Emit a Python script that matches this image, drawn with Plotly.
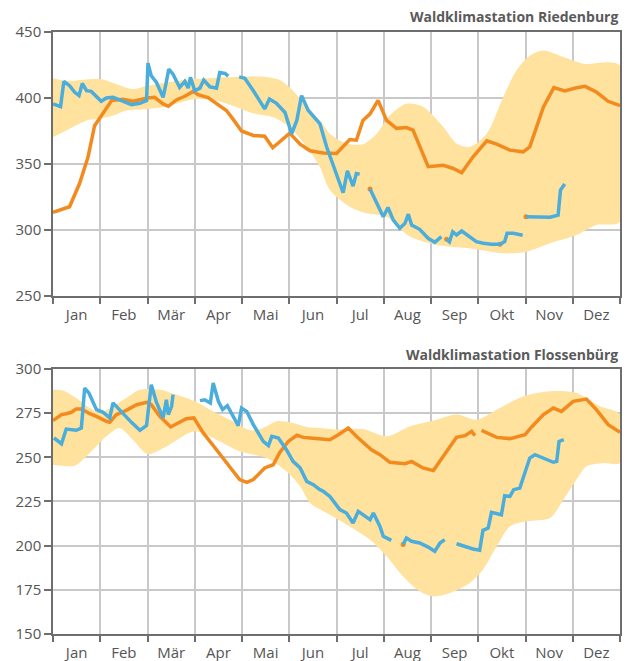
import plotly.graph_objects as go

months = ["Jan", "Feb", "Mär", "Apr", "Mai", "Jun", "Jul", "Aug", "Sep", "Okt", "Nov", "Dez"]

# ---------------- Riedenburg (top) ----------------
r_orange_x = [0, 0.35, 0.56, 0.74, 0.88, 1.02, 1.24, 1.48, 1.69, 2.0, 2.15, 2.33, 2.44, 2.61, 2.79, 2.97, 3.07, 3.28, 3.46, 3.67, 3.81, 3.99, 4.24, 4.48, 4.65, 5.01, 5.23, 5.44, 5.72, 6.0, 6.28, 6.42, 6.56, 6.71, 6.88, 7.06, 7.27, 7.48, 7.62, 7.94, 8.26, 8.47, 8.65, 8.89, 9.18, 9.39, 9.67, 9.95, 10.09, 10.38, 10.6, 10.83, 11.08, 11.26, 11.5, 11.75, 12.0]
r_orange_y = [313.3, 317.6, 335, 355, 379, 386.7, 398, 399, 397.5, 400, 400.5, 395.5, 393.7, 398.5, 401.3, 405, 402.5, 400.3, 395.5, 390.5, 384, 375, 371.6, 371.1, 362.3, 373.4, 365, 360, 358.4, 358, 368.5, 368, 383, 388, 398.2, 383, 377, 377.6, 375.6, 348, 349, 346.6, 343.3, 355.4, 367.5, 365, 360.5, 359.2, 363, 393.2, 407.8, 405.3, 407.8, 408.8, 404.5, 397.5, 394.2]

# isolated orange points visible at the start of some blue segments
r_dot_x = [6.71, 8.33, 9.46, 10.01]
r_dot_y = [331, 293, 289.2, 310]

r_blue_x = [0, 0.16, 0.23, 0.35, 0.46, 0.55, 0.62, 0.71, 0.81, 0.99, 1.02, 1.13, 1.27, 1.45, 1.66, 1.84, 1.98, 2.01, 2.08, 2.19, 2.33, 2.39, 2.45, 2.54, 2.68, 2.79, 2.86, 2.91, 3.0, 3.11, 3.19, 3.32, 3.46, 3.53, 3.64, 3.71,
            None,
            3.94, 4.06, 4.24, 4.48, 4.58, 4.73, 4.91, 5.05, 5.16, 5.26, 5.4, 5.54, 5.65, 5.79, 6.04, 6.14, 6.23, 6.35, 6.42, 6.49,
            None,
            6.71, 6.88, 6.99, 7.09, 7.2, 7.34, 7.45, 7.52, 7.59, 7.76, 7.94, 8.08, 8.22,
            None,
            8.33, 8.39, 8.46, 8.54, 8.65, 8.82, 8.96, 9.11, 9.28, 9.46, 9.56, 9.61, 9.74, 9.94,
            None,
            10.01, 10.23, 10.52, 10.69, 10.74, 10.83]
r_blue_y = [395.5, 393.5, 412.6, 409.3, 404.3, 401.8, 411, 405.5, 405, 399.2, 397.5, 400, 400.5, 398, 395, 396, 398, 426.4, 416.8, 411.8, 400.5, 410.6, 421.9, 418, 408, 412.6, 407.5, 415.6, 405.5, 407.5, 413.6, 408.5, 407.5, 419.3, 418.6, 416.6,
            None,
            416, 415, 405.5, 391.7, 399.2, 396, 389, 372.9, 383, 401.8, 390.7, 384.4, 380.4, 363, 337.8, 328.2, 344.8, 333.2, 342.8, 342.3,
            None,
            331, 318.9, 310, 317, 307.6, 301.3, 305, 312, 303.8, 300.5, 293.7, 290.7, 295,
            None,
            293, 291, 298.7, 296.2, 299.2, 294.5, 291.2, 290, 289.2, 289.2, 291.2, 297.5, 297.5, 296,
            None,
            310, 310, 309.6, 311.3, 330.2, 334.8]

r_band_up_x = [0, 0.28, 0.99, 1.34, 1.69, 2.0, 2.4, 3.0, 3.81, 4.52, 4.8, 5.08, 5.37, 5.65, 5.86, 6.21, 6.56, 6.85, 7.13, 7.48, 7.84, 8.26, 8.54, 8.82, 9.18, 9.53, 9.81, 10.09, 10.38, 10.8, 11.22, 12.0]
r_band_up_y = [415, 413, 414.3, 410.5, 406.8, 409.3, 411.8, 414.3, 416, 416, 413.6, 405.5, 393, 383, 373, 365.5, 365, 373, 387, 395.7, 393.2, 378, 365.5, 363, 373, 400.8, 421, 432, 436, 431, 426, 424.7]
r_band_lo_x = [0, 0.21, 0.42, 0.56, 0.71, 0.99, 1.27, 1.55, 2.0, 2.4, 3.0, 3.46, 3.81, 4.24, 4.66, 5.01, 5.37, 5.65, 5.86, 6.28, 6.64, 7.06, 7.55, 8.12, 8.82, 9.53, 10.02, 10.52, 11.08, 11.5, 12.0]
r_band_lo_y = [370.4, 374, 378, 380.4, 383, 384.2, 386.7, 390.5, 391.7, 393.5, 399.2, 398, 394.2, 388.4, 385.4, 377.9, 362.8, 347.7, 330.2, 317.6, 312.6, 310, 295, 288.7, 286.1, 282.4, 283.6, 290, 296.2, 303.8, 306.3]

# ---------------- Flossenbürg (bottom) ----------------
f_orange_x = [0, 0.18, 0.28, 0.39, 0.49, 0.6, 0.78, 0.92, 1.13, 1.2, 1.34, 1.55, 1.77, 1.98, 2.08, 2.26, 2.49, 2.68, 2.82, 2.98, 3.18, 3.46, 3.74, 3.95, 4.1, 4.24, 4.48, 4.66, 4.8, 4.98, 5.16, 5.3, 5.44, 5.86, 6.04, 6.25, 6.42, 6.74, 6.92, 7.13, 7.45, 7.59, 7.83, 8.05, 8.26, 8.54, 8.72, 8.86, 8.93,
              None,
              9.07, 9.39, 9.67, 9.99, 10.13, 10.38, 10.59, 10.76, 11.01, 11.29, 11.5, 11.75, 12.0]
f_orange_y = [270.8, 274.2, 274.7, 275.5, 277.4, 277.4, 274.7, 273.2, 270.4, 269.8, 274.2, 276.6, 279.8, 281.1, 279.8, 273.2, 267.2, 269.8, 271.9, 272.3, 263.8, 254.3, 244.9, 237.4, 235.8, 237.4, 244, 245.8, 252.8, 259, 262.5, 261.3, 261, 260, 262.8, 266.6, 261.9, 254.3, 251.5, 247.2, 246.4, 247.7, 244, 242.5, 250.6, 261.3, 262.3, 264.7, 262.3,
              None,
              265.3, 261.3, 260.6, 262.8, 267.2, 274.2, 277.9, 276, 281.7, 283, 277, 268.5, 264.2]

f_dot_x = [7.41]
f_dot_y = [200.6]

f_blue_x = [0.02, 0.18, 0.28, 0.49, 0.6, 0.67, 0.76, 0.92, 1.06, 1.2, 1.27, 1.41, 1.66, 1.84, 1.98, 2.03, 2.08, 2.19, 2.33, 2.4, 2.44, 2.51, 2.54,
            None,
            3.11, 3.21, 3.33, 3.39, 3.5, 3.59, 3.69, 3.81, 3.92, 3.99, 4.1, 4.24, 4.45, 4.56, 4.63, 4.77, 4.94, 5.08, 5.23, 5.37, 5.51, 5.65, 5.72, 5.86, 6.07, 6.21, 6.35, 6.46, 6.6, 6.71, 6.78, 6.92, 6.99, 7.16,
            None,
            7.41, 7.48, 7.59, 7.76, 7.94, 8.08, 8.19, 8.29,
            None,
            8.54, 8.75, 8.89, 9.03, 9.1, 9.21, 9.28, 9.49, 9.56, 9.67, 9.75, 9.88, 9.99, 10.09, 10.2, 10.38, 10.59, 10.66, 10.71, 10.81]
f_blue_y = [261, 257.7, 266, 265.3, 266.6, 289.2, 286.4, 277, 275.5, 272.3, 280.8, 276.6, 269.8, 265.3, 268, 279.8, 291.1, 281.1, 272.3, 282.6, 274.2, 278.9, 285.5,
            None,
            282.1, 282.6, 280.8, 292.1, 281.7, 277, 279.2, 273.2, 267.9, 277.9, 276, 268.5, 259, 256.6, 261.9, 260.9, 254.3, 247.7, 244, 236.4, 234.5, 231.7, 230.8, 227.9, 220.4, 218.5, 212.8, 219.4, 216.6, 214.7, 218.5, 210.9, 205.3, 203,
            None,
            200.6, 204.3, 202.5, 201.5, 199.2, 196.8, 201.5, 203.4,
            None,
            201.1, 199.2, 198.1, 197.4, 208.7, 210, 218.9, 217.5, 228.3, 227.9, 231.7, 232.6, 242.1, 249.6, 251.5, 249.6, 247.2, 247.7, 259, 260]

f_band_up_x = [0, 0.21, 0.49, 0.78, 0.99, 1.27, 1.55, 1.84, 2.26, 2.61, 3.0, 3.32, 3.81, 4.17, 4.45, 4.73, 5.01, 5.37, 5.65, 6.0, 6.56, 7.06, 7.55, 8.12, 8.54, 8.96, 9.39, 9.95, 10.52, 11.08, 11.58, 12.0]
f_band_up_y = [288.3, 287.9, 283.6, 277.9, 275.1, 278.9, 283.6, 288.3, 288.3, 285.5, 281.7, 277, 270.4, 265.3, 266.6, 270.4, 269.8, 267.2, 266.6, 265.7, 266, 261.9, 267.5, 271.3, 274.2, 271.3, 277, 284.5, 287.4, 286.4, 278.9, 274.2]
f_band_lo_x = [0, 0.46, 0.71, 1.13, 1.41, 1.69, 2.0, 2.4, 3.0, 3.46, 3.95, 4.52, 4.94, 5.23, 5.44, 5.86, 6.28, 6.71, 7.06, 7.41, 7.76, 8.05, 8.4, 8.82, 9.1, 9.39, 9.67, 10.02, 10.52, 10.8, 11.08, 11.29, 11.65, 12.0]
f_band_lo_y = [245.8, 245.3, 250.6, 261.9, 266.6, 260, 251.9, 256.2, 264.7, 260, 253.4, 249.6, 242.1, 233.6, 224.2, 217.5, 210.9, 203.4, 194, 182.6, 174.2, 171.3, 173.2, 178.9, 186.4, 199.6, 210.9, 213.8, 215.7, 226, 237.4, 244.9, 246.8, 246.8]

titles = ["Waldklimastation Riedenburg", "Waldklimastation Flossenbürg"]

ORANGE = "#F28A1E"
BLUE = "#4BADDC"
BAND = "#FEE29E"
GRID = "#C9C9CB"
AXIS = "#6E6E6E"
TXT = "#555555"
FONT = "Open Sans"

fig = go.Figure()

def add_panel(suffix, bux, buy, blx, bly, ox, oy, dx, dy, bx, by):
    xa = "x" + suffix
    ya = "y" + suffix
    fig.add_trace(go.Scatter(x=bux + blx[::-1], y=buy + bly[::-1], fill="toself",
                             fillcolor=BAND, line=dict(width=0, shape="spline", smoothing=0.8),
                             mode="lines", hoverinfo="skip", showlegend=False, xaxis=xa, yaxis=ya))
    fig.add_trace(go.Scatter(x=ox, y=oy, mode="lines", line=dict(color=ORANGE, width=3.5),
                             connectgaps=False, showlegend=False, xaxis=xa, yaxis=ya))
    fig.add_trace(go.Scatter(x=dx, y=dy, mode="markers", marker=dict(color=ORANGE, size=5),
                             showlegend=False, xaxis=xa, yaxis=ya))
    fig.add_trace(go.Scatter(x=bx, y=by, mode="lines", line=dict(color=BLUE, width=3.5),
                             connectgaps=False, showlegend=False, xaxis=xa, yaxis=ya))

add_panel("", r_band_up_x, r_band_up_y, r_band_lo_x, r_band_lo_y, r_orange_x, r_orange_y,
          r_dot_x, r_dot_y, r_blue_x, r_blue_y)
add_panel("2", f_band_up_x, f_band_up_y, f_band_lo_x, f_band_lo_y, f_orange_x, f_orange_y,
          f_dot_x, f_dot_y, f_blue_x, f_blue_y)

centers = [i + 0.5 for i in range(12)]
bounds = list(range(13))

def xaxis(anchor):
    return dict(range=[0, 12], anchor=anchor, tickmode="array", tickvals=centers, ticktext=months,
                ticks="", showgrid=False, showline=True, linecolor=AXIS, linewidth=1.5, mirror=True,
                automargin=False, ticklabelstandoff=4,
                tickfont=dict(family=FONT, size=15, color=TXT), zeroline=False, fixedrange=True,
                minor=dict(tickmode="array", tickvals=bounds, ticks="outside", ticklen=6, tickwidth=1.5,
                           tickcolor=AXIS, showgrid=True, gridcolor=GRID, gridwidth=1.5))

def yaxis(anchor, rng, dt, dom):
    return dict(range=rng, anchor=anchor, domain=dom, dtick=dt, tick0=rng[0], ticks="outside", ticklen=7,
                tickwidth=1.5, tickcolor=AXIS, showgrid=True, gridcolor=GRID, gridwidth=1.5,
                showline=True, linecolor=AXIS, linewidth=1.5, mirror=True, zeroline=False,
                automargin=False,
                tickfont=dict(family=FONT, size=15, color=TXT))

# The page body adds an 8px offset, so the figure is sized to fit the 634x661 window.
fig.update_layout(
    width=626, height=653,
    margin=dict(l=45, r=14, t=24, b=27),
    paper_bgcolor="white", plot_bgcolor="white",
    xaxis=xaxis("y"),
    yaxis=yaxis("x", [250, 450], 50, [0.5615, 1.0]),
    xaxis2=xaxis("y2"),
    yaxis2=yaxis("x2", [150, 300], 25, [0.0, 0.4402]),
    annotations=[
        dict(text="<b>" + titles[0] + "</b>", xref="paper", yref="paper", x=1.0, y=1.025,
             xanchor="right", yanchor="middle", showarrow=False,
             font=dict(family=FONT, size=14, color="#5A5A5A")),
        dict(text="<b>" + titles[1] + "</b>", xref="paper", yref="paper", x=1.0, y=0.4635,
             xanchor="right", yanchor="middle", showarrow=False,
             font=dict(family=FONT, size=14, color="#5A5A5A")),
    ],
)

fig.write_html("out.html")
